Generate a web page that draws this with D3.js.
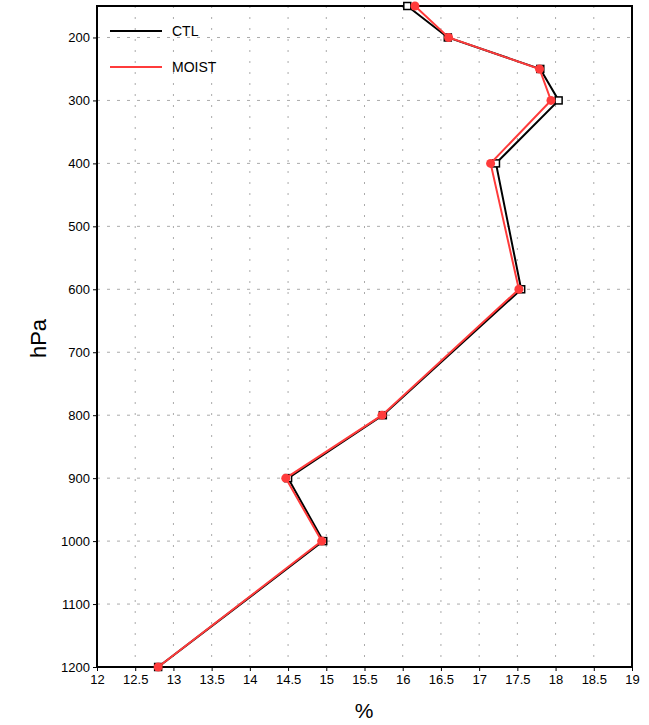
<!DOCTYPE html>
<html>
<head>
<meta charset="utf-8">
<script src="https://cdn.jsdelivr.net/npm/d3@7"></script>
<style>
  body { margin: 0; background: #fff; }
  svg { display: block; font-family: "Liberation Sans", Arial, sans-serif; }
</style>
</head>
<body>
<svg id="chart" width="649" height="725"></svg>
<script>
// Pressure levels (hPa) and profile values (%)
const levels = [150, 200, 250, 300, 400, 600, 800, 900, 1000, 1200];
const ctl    = [16.06, 16.59, 17.80, 18.04, 17.22, 17.55, 15.74, 14.50, 14.96, 12.80];
const moist  = [16.16, 16.60, 17.79, 17.94, 17.15, 17.52, 15.73, 14.47, 14.94, 12.80];
const seriesNames = ["CTL", "MOIST"];
const xTicks = [12, 12.5, 13, 13.5, 14, 14.5, 15, 15.5, 16, 16.5, 17, 17.5, 18, 18.5, 19];
const yTicks = [200, 300, 400, 500, 600, 700, 800, 900, 1000, 1100, 1200];

const svg = d3.select("#chart");
const plotLeft = 97, plotRight = 632, plotTop = 6, plotBottom = 667;

const x = d3.scaleLinear().domain([12, 19]).range([plotLeft, plotRight]);
const y = d3.scaleLinear().domain([150, 1200]).range([plotTop, plotBottom]);

// Grid lines
const grid = svg.append("g");
grid.selectAll("line.v").data(xTicks.slice(1, -1)).join("line")
  .attr("x1", d => x(d)).attr("x2", d => x(d))
  .attr("y1", plotTop).attr("y2", plotBottom)
  .attr("stroke", "#aaa").attr("stroke-width", 1)
  .attr("stroke-dasharray", "2,9");
grid.selectAll("line.h").data(yTicks.slice(0, -1)).join("line")
  .attr("y1", d => y(d)).attr("y2", d => y(d))
  .attr("x1", plotLeft).attr("x2", plotRight)
  .attr("stroke", "#aaa").attr("stroke-width", 1)
  .attr("stroke-dasharray", "3,7");

// Axes
const xAxis = d3.axisBottom(x).tickValues(xTicks).tickSize(4).tickPadding(4)
  .tickFormat(d => String(d));
const gx = svg.append("g").attr("transform", `translate(0,${plotBottom})`).call(xAxis);
gx.select(".domain").remove();
gx.selectAll("text").attr("font-size", 13).attr("fill", "#000");
gx.selectAll("line").attr("stroke", "#000");

const yAxis = d3.axisLeft(y).tickValues(yTicks).tickSize(4).tickPadding(3)
  .tickFormat(d => String(d));
const gy = svg.append("g").attr("transform", `translate(${plotLeft},0)`).call(yAxis);
gy.select(".domain").remove();
gy.selectAll("text").attr("font-size", 13).attr("fill", "#000");
gy.selectAll("line").attr("stroke", "#000");

// Frame
svg.append("rect")
  .attr("x", plotLeft).attr("y", plotTop)
  .attr("width", plotRight - plotLeft).attr("height", plotBottom - plotTop)
  .attr("fill", "none").attr("stroke", "#000").attr("stroke-width", 2);

// Axis titles
svg.append("text")
  .attr("transform", `translate(46,${(plotTop + plotBottom) / 2 + 2}) rotate(-90)`)
  .attr("text-anchor", "middle")
  .attr("font-size", 22)
  .text("hPa");
svg.append("text")
  .attr("x", 364).attr("y", 718)
  .attr("text-anchor", "middle")
  .attr("font-size", 21)
  .text("%");

// Profiles
const line = d3.line().x(d => x(d.v)).y(d => y(d.p));
const ctlData = levels.map((p, i) => ({ p, v: ctl[i] }));
const moistData = levels.map((p, i) => ({ p, v: moist[i] }));

const plot = svg.append("g");
plot.append("path").datum(ctlData).attr("d", line)
  .attr("fill", "none").attr("stroke", "#000").attr("stroke-width", 2);
plot.selectAll("rect.ctl").data(ctlData).join("rect")
  .attr("x", d => x(d.v) - 3.5).attr("y", d => y(d.p) - 3.5)
  .attr("width", 7).attr("height", 7)
  .attr("fill", "#fff").attr("stroke", "#000").attr("stroke-width", 1.5);

plot.append("path").datum(moistData).attr("d", line)
  .attr("fill", "none").attr("stroke", "#ff3b3b").attr("stroke-width", 2);
plot.selectAll("circle.moist").data(moistData).join("circle")
  .attr("cx", d => x(d.v)).attr("cy", d => y(d.p)).attr("r", 4.5)
  .attr("fill", "#ff3b3b");

// Legend
const legendColors = ["#000", "#ff3b3b"];
const lg = svg.append("g");
seriesNames.forEach((name, i) => {
  const ly = 31 + i * 36;
  lg.append("line").attr("x1", 110).attr("x2", 162).attr("y1", ly).attr("y2", ly)
    .attr("stroke", legendColors[i]).attr("stroke-width", 2);
  lg.append("text").attr("x", 172).attr("y", ly + 5)
    .attr("font-size", 14).text(name);
});
</script>
</body>
</html>
